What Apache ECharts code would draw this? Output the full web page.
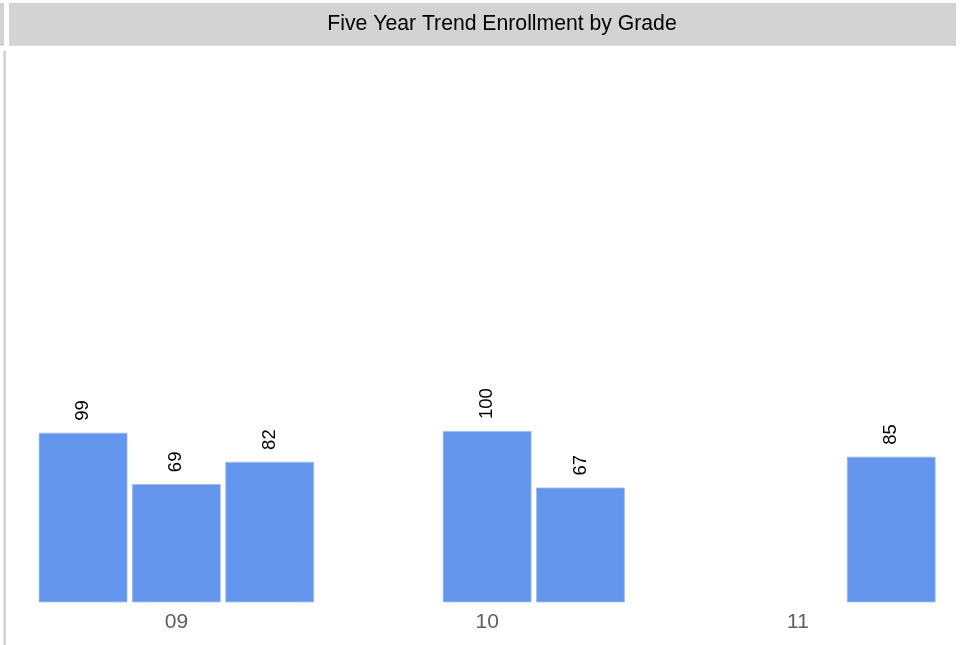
<!DOCTYPE html>
<html>
<head>
<meta charset="utf-8">
<script src="https://cdn.jsdelivr.net/npm/echarts@6/dist/echarts.min.js"></script>
<style>
html,body{margin:0;padding:0;background:#fff;}
#chart{width:966px;height:645px;}
</style>
</head>
<body>
<div id="chart"></div>
<script>
const titleText = 'Five Year Trend Enrollment by Grade';
const grades = ['09', '10', '11'];
const seriesNames = ['Year 1', 'Year 2', 'Year 3'];
const year1 = [99, null, null];
const year2 = [69, 100, null];
const year3 = [82, 67, 85];
const seriesValues = [year1, year2, year3];

const chart = echarts.init(document.getElementById('chart'), null, {renderer: 'canvas'});
const FONT = '"Liberation Sans", Arial, sans-serif';

const option = {
  animation: false,
  backgroundColor: '#fff',
  graphic: [
    {type: 'rect', shape: {x: 0, y: 3, width: 4, height: 42.7}, style: {fill: '#d3d3d3'}, silent: true},
    {type: 'rect', shape: {x: 9, y: 3, width: 947, height: 42.7}, style: {fill: '#d3d3d3'}, silent: true},
    {type: 'rect', shape: {x: 3.3, y: 50.7, width: 2.7, height: 595}, style: {fill: '#d3d3d3'}, silent: true},
    {type: 'text', x: 502, y: 24.3, style: {text: titleText, fill: '#000', font: '21.2px ' + FONT, align: 'center', verticalAlign: 'middle'}, silent: true}
  ],
  grid: {left: 21, right: 12.7, top: 54.3, bottom: 42.7},
  xAxis: {
    type: 'category',
    data: grades,
    axisLine: {show: false},
    axisTick: {show: false},
    axisLabel: {color: '#5f5f5f', fontSize: 21, fontFamily: FONT, margin: 9}
  },
  yAxis: {
    type: 'value',
    min: 0,
    max: 320,
    show: false,
    splitLine: {show: false}
  },
  series: seriesValues.map((vals, i) => ({
    name: seriesNames[i],
    type: 'bar',
    data: vals,
    barGap: '5.2%',
    barCategoryGap: '11.4%',
    itemStyle: {color: '#6495ED', borderColor: '#9dbaf2', borderWidth: 0.8},
    label: {
      show: true,
      position: 'top',
      rotate: 90,
      align: 'left',
      verticalAlign: 'middle',
      distance: 12,
      color: '#000',
      fontSize: 18.5,
      fontFamily: FONT
    }
  }))
};
chart.setOption(option);
</script>
</body>
</html>
